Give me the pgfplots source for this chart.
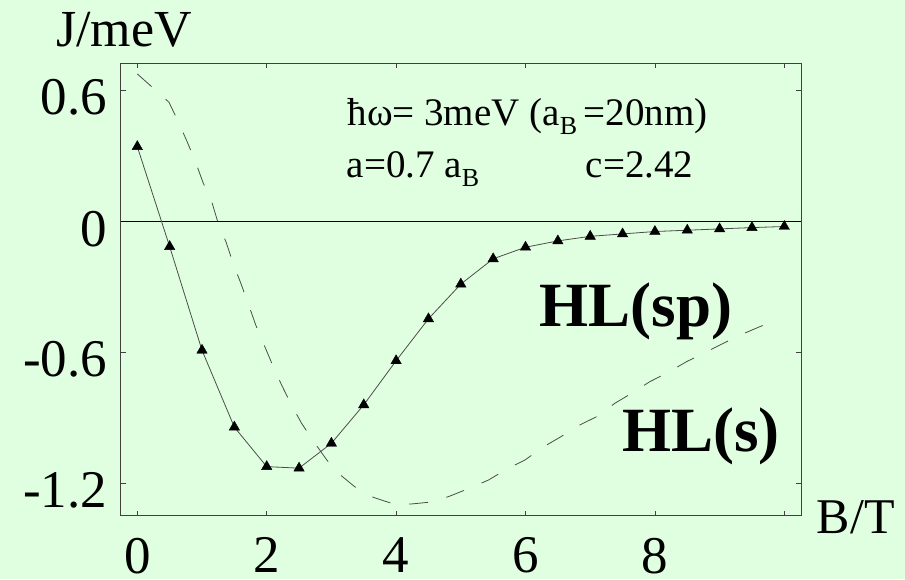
\documentclass[border=0pt]{standalone}
\usepackage{pgfplots}
\pgfplotsset{compat=1.18}
\usepackage{fontspec}
\setmainfont{Liberation Serif}
\definecolor{bg}{HTML}{E0FFE0}
\definecolor{ax}{HTML}{404040}
\newcommand\sub[1]{\raisebox{-9pt}{\fontsize{26}{26}\selectfont #1}}
\begin{document}
\begin{tikzpicture}[x=1pt,y=1pt]
\fill[bg] (0,0) rectangle (905,579);
\path[use as bounding box] (0,0) rectangle (905,579);
\begin{axis}[
  at={(121pt,63.3pt)}, anchor=south west, scale only axis,
  width=680pt, height=452.4pt,
  xmin=-0.252, xmax=10.258, ymin=-1.3468, ymax=0.7256,
  axis line style={ax, line width=1pt},
  xtick={0,2,4,6,8,10}, xticklabels={0,2,4,6,8,{}},
  ytick={-1.2,-0.6,0,0.6}, yticklabels={-1.2,-0.6,0,0.6},
  tick pos=both, tick align=inside, major tick length=5pt,
  tick style={ax, line width=0.8pt},
  tick label style={font=\fontsize{53}{53}\selectfont, inner sep=0pt},
  xticklabel style={anchor=north, yshift=-22pt},
  yticklabel style={anchor=east, xshift=-13.7pt, yshift=-7pt},
  clip=false,
]
\addplot[black, line width=0.8pt] coordinates {(-0.252,0) (10.258,0)};
\addplot[black!70, line width=0.8pt, dash pattern=on 19pt off 19pt] coordinates {
(0,0.677) (0.25,0.611) (0.49,0.547) (0.63,0.46) (0.768,0.368) (0.896,0.277)
(1.02,0.176) (1.15,0.092) (1.25,-0.007) (1.37,-0.092) (1.48,-0.19) (1.60,-0.282)
(1.72,-0.38) (1.83,-0.473) (1.96,-0.565) (2.08,-0.649) (2.23,-0.748) (2.37,-0.832)
(2.54,-0.924) (2.71,-1.0) (2.93,-1.092) (3.11,-1.153) (3.36,-1.214) (3.65,-1.263)
(3.96,-1.293) (4.24,-1.293) (4.58,-1.283) (4.83,-1.257) (5.17,-1.217) (5.43,-1.183)
(5.73,-1.13) (5.99,-1.092) (6.28,-1.031) (6.53,-0.988) (6.84,-0.931) (7.10,-0.893)
(7.38,-0.832) (7.64,-0.786) (7.92,-0.733) (8.18,-0.694) (8.49,-0.641) (8.75,-0.603)
(9.06,-0.557) (9.32,-0.519) (9.62,-0.481) (9.91,-0.447)};
\addplot[black!70, line width=0.8pt, mark=triangle*, mark size=6pt,
  mark options={black, solid, line width=0.4pt}] coordinates {
(0,0.344) (0.5,-0.114) (1,-0.589) (1.5,-0.941) (2,-1.122) (2.5,-1.129)
(3,-1.015) (3.5,-0.839) (4,-0.637) (4.5,-0.445) (5,-0.286) (5.5,-0.170)
(6,-0.117) (6.5,-0.088) (7,-0.067) (7.5,-0.056) (8,-0.045) (8.5,-0.039)
(9,-0.033) (9.5,-0.027) (10,-0.022)};
\node[anchor=base west, inner sep=0pt, font=\fontsize{39}{39}\selectfont]
  at (axis cs:3.246,0.4398) {ħω= 3meV (a\sub{B}\,=20nm)};
\node[anchor=base west, inner sep=0pt, font=\fontsize{39}{39}\selectfont]
  at (axis cs:3.236,0.203) {a=0.7 a\sub{B}};
\node[anchor=base west, inner sep=0pt, font=\fontsize{39}{39}\selectfont]
  at (axis cs:6.93,0.203) {c=2.42};
\node[anchor=base west, inner sep=0pt, font=\fontsize{63}{63}\selectfont\bfseries]
  at (axis cs:6.22,-0.478) {HL(sp)};
\node[anchor=base west, inner sep=0pt, font=\fontsize{63}{63}\selectfont\bfseries]
  at (axis cs:7.49,-1.054) {HL(s)};
\end{axis}
\node[anchor=base west, inner sep=0pt, font=\fontsize{52}{52}\selectfont] at (56,532.3) {J/meV};
\node[anchor=base west, inner sep=0pt, font=\fontsize{50}{50}\selectfont] at (816.7,45.7) {B/T};
\end{tikzpicture}
\end{document}
